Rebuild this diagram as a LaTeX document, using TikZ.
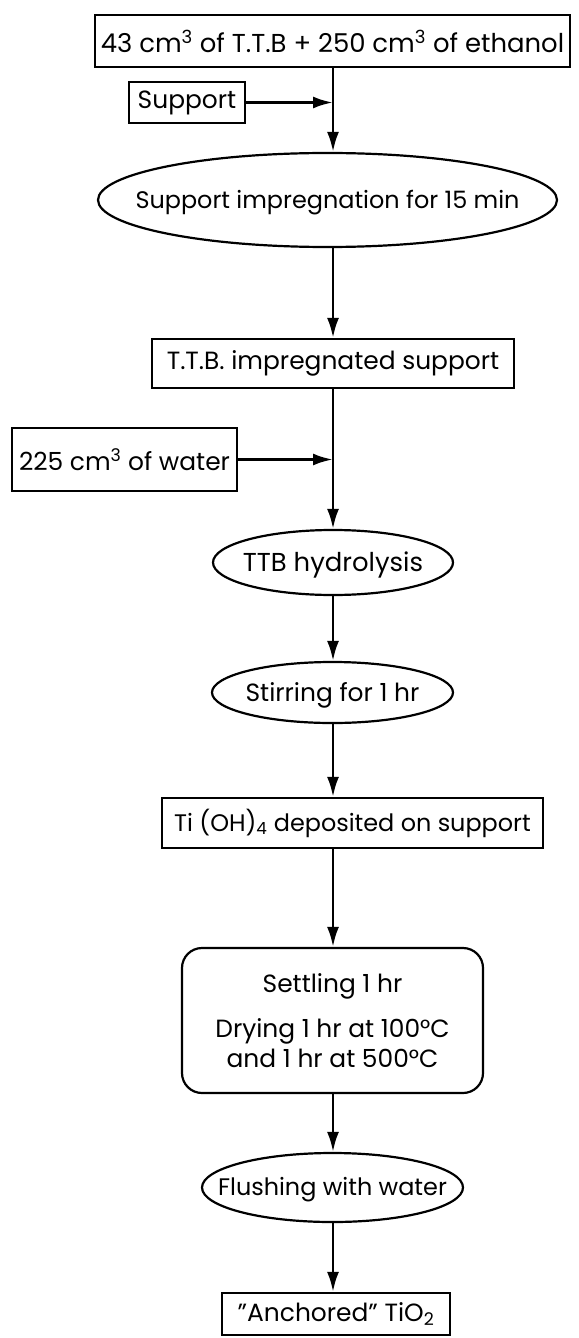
\documentclass[tikz,border=0pt]{standalone}
\usepackage{fontspec}
\setmainfont{Poppins}
\usetikzlibrary{arrows.meta,shapes.geometric}
\newcommand{\ovtext}[1]{\raisebox{-0.35em}[0pt][0pt]{\makebox[0pt]{#1}}}
\begin{document}
\begin{tikzpicture}[x=1bp,y=-1bp,
  every node/.style={font=\fontsize{25}{30}\selectfont, inner sep=0pt},
  sqbox/.style={draw, line width=2.2bp, rectangle},
  ovbox/.style={draw, line width=2.2bp, ellipse},
  rndbox/.style={draw, line width=2.2bp, rectangle, rounded corners=20bp},
  flow/.style={line width=2.8bp, -{Latex[length=20bp,width=12bp]}}]
\useasboundingbox (0,0) rectangle (579,1338);
\node[sqbox, minimum width=475bp, minimum height=52bp, font=\fontsize{26}{30}\selectfont] (top) at (332.5,41)
  {43 cm\textsuperscript{3} of T.T.B + 250 cm\textsuperscript{3} of ethanol};
\node[sqbox, minimum width=116bp, minimum height=41bp] (sup) at (187,102.5) {Support};
\node[ovbox, minimum width=459bp, minimum height=94bp, font=\fontsize{24}{30}\selectfont] (imp) at (327.5,200)
  {\ovtext{Support impregnation for 15 min}};
\node[sqbox, minimum width=362bp, minimum height=49bp] (ttb) at (333,363.5)
  {T.T.B. impregnated support};
\node[sqbox, minimum width=225bp, minimum height=63bp] (wat) at (124.5,459.5)
  {225 cm\textsuperscript{3} of water};
\node[ovbox, minimum width=240bp, minimum height=65bp, font=\fontsize{26}{30}\selectfont] (hyd) at (333,562.5)
  {\ovtext{TTB hydrolysis}};
\node[ovbox, minimum width=241bp, minimum height=61bp] (sti) at (332.5,692.5)
  {\ovtext{Stirring for 1 hr}};
\node[sqbox, minimum width=381bp, minimum height=50bp, font=\fontsize{24}{30}\selectfont] (tio) at (352.5,823)
  {Ti (OH)\textsubscript{4} deposited on support};
\node[rndbox, minimum width=301bp, minimum height=145bp, align=center] (set) at (332.5,1020.5)
  {Settling 1 hr\\[15bp] Drying 1 hr at 100°C\\ and 1 hr at 500°C};
\node[ovbox, minimum width=261bp, minimum height=69bp, font=\fontsize{24}{30}\selectfont] (flu) at (332.5,1187.5)
  {\ovtext{Flushing with water}};
\node[sqbox, minimum width=228bp, minimum height=42bp] (anc) at (336,1314)
  {"Anchored" TiO\textsubscript{2}};
% connectors
\draw[flow] (top.south -| ttb) -- (imp.north -| ttb);
\draw[flow] (sup.east) -- (sup.east -| ttb);
\draw[flow] (imp.south -| ttb) -- (ttb.north);
\draw[flow] (ttb.south) -- (hyd.north);
\draw[flow] (wat.east) -- (wat.east -| hyd);
\draw[flow] (hyd.south) -- (sti.north -| hyd);
\draw[flow] (sti.south -| hyd) -- (tio.north -| hyd);
\draw[flow] (tio.south -| hyd) -- (set.north -| hyd);
\draw[flow] (set.south -| hyd) -- (flu.north -| hyd);
\draw[flow] (flu.south -| hyd) -- (anc.north -| hyd);
\end{tikzpicture}
\end{document}
